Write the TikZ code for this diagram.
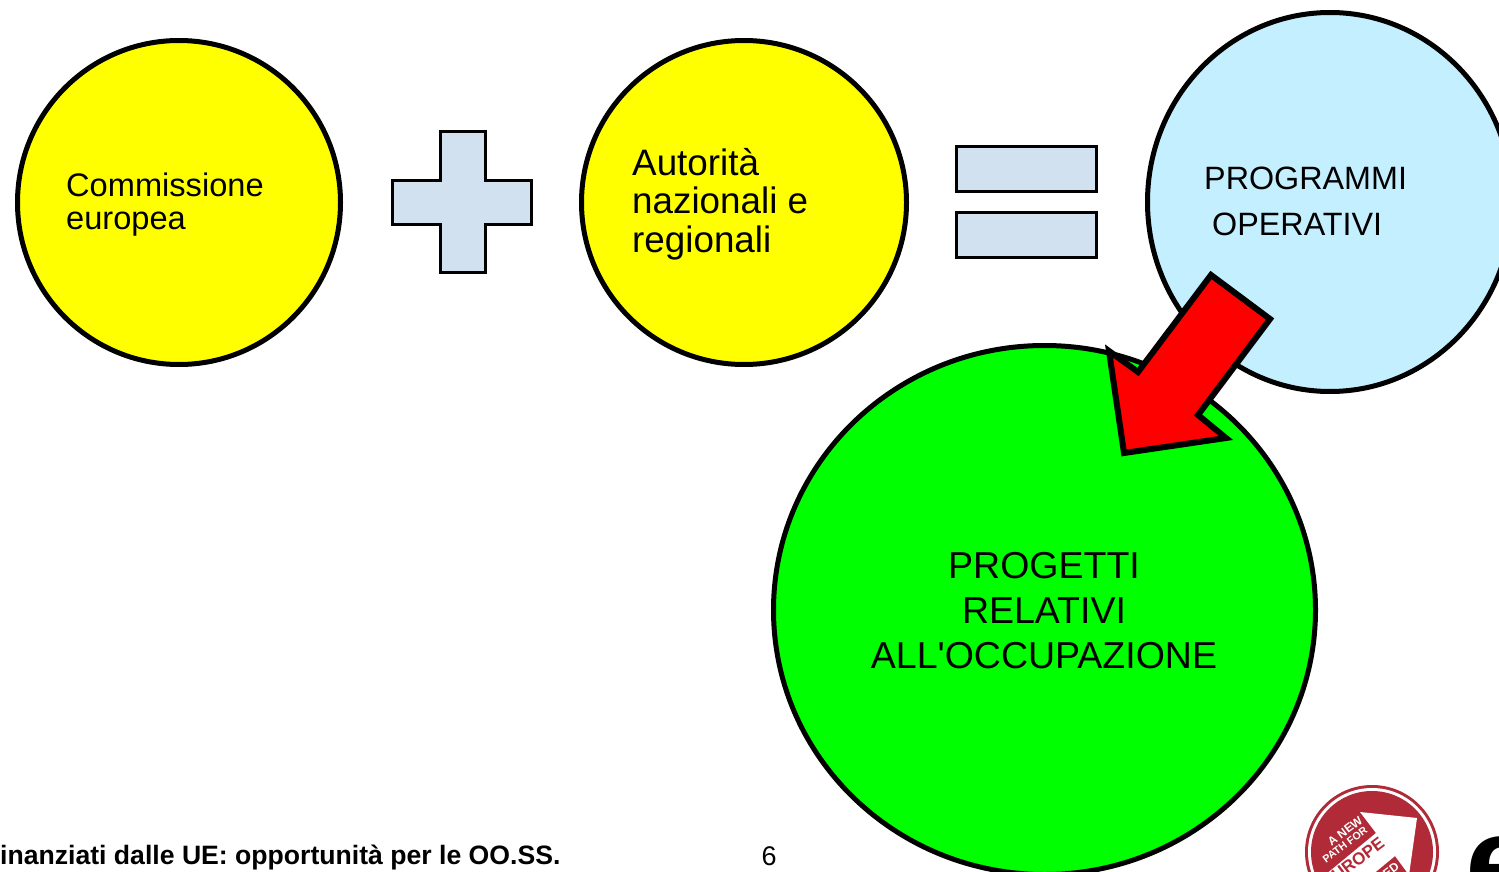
\documentclass[tikz,border=0pt]{standalone}
\usepackage{fontspec}
\usetikzlibrary{shapes.geometric}
\setmainfont{Liberation Sans}
\newfontfamily\plainfont{Liberation Sans}
\definecolor{pureyellow}{RGB}{255,255,0}
\definecolor{paleblue}{HTML}{D2E1F0}
\definecolor{skyfill}{HTML}{C4EFFF}
\definecolor{puregreen}{RGB}{0,255,0}
\definecolor{purered}{RGB}{255,0,0}
\definecolor{logored}{HTML}{B02A37}
\tikzset{
  disc/.style={ellipse,draw=black,line width=5pt,inner sep=0pt,anchor=center},
  lefttext/.style={anchor=west,align=left,inner sep=0pt},
  paleshape/.style={draw=black,line width=3pt,fill=paleblue},
  logotext/.style={text=white,font=\bfseries,rotate=37,inner sep=0pt}
}
\begin{document}
\begin{tikzpicture}[x=1pt,y=-1pt]
\useasboundingbox (0,0) rectangle (1499,872);
\clip (0,0) rectangle (1499,872);
\fill[white] (0,0) rectangle (1499,872);
\node[disc,fill=pureyellow,minimum width=323pt,minimum height=324pt] (ce) at (179,202.5) {};
\node[disc,fill=pureyellow,minimum width=325pt,minimum height=324pt] (an) at (744,202.5) {};
\node[disc,fill=skyfill,minimum width=365pt,minimum height=379pt] (po) at (1330,202) {};
\node[disc,fill=puregreen,minimum width=542pt,minimum height=529pt] (pr) at (1044.5,610) {};
\draw[paleshape] (440,132) -- (485,132) -- (485,180) -- (531,180) -- (531,224) -- (485,224) -- (485,272) -- (440,272) -- (440,224) -- (392,224) -- (392,180) -- (440,180) -- cycle;
\node[paleshape,minimum width=140pt,minimum height=45pt,inner sep=0pt] (eqa) at (1026.5,169) {};
\node[paleshape,minimum width=140pt,minimum height=45pt,inner sep=0pt] (eqb) at (1026.5,235) {};
\draw[line width=6pt,fill=purered,miter limit=10] (1211,275) -- (1270,319) -- (1198,415) -- (1226,438) -- (1124,453) -- (1109,351) -- (1138,372) -- cycle;
\node[lefttext,font=\fontsize{32.6}{33}\selectfont] (cet) at (66,205) {Commissione\\europea};
\node[lefttext,font=\fontsize{36.8}{38.5pt}\selectfont] (ant) at (632,204) {Autorità\\nazionali e\\regionali};
\node[lefttext,font=\fontsize{32.3}{32}\selectfont] (pot1) at (1204,178) {PROGRAMMI};
\node[lefttext,font=\fontsize{32.3}{32}\selectfont] (pot2) at (1212,224) {OPERATIVI};
\node[align=center,inner sep=0pt,font=\plainfont\fontsize{37.5}{45}\selectfont] (prt) at (1044,611) {PROGETTI\\RELATIVI\\ALL'OCCUPAZIONE};
\node[lefttext,font=\bfseries\fontsize{26.6}{30}\selectfont] (foot) at (0,857.5) {inanziati dalle UE: opportunità per le OO.SS.};
\node[font=\fontsize{27}{30}\selectfont,inner sep=0pt] (num) at (769,856) {6};
% logo
\node[circle,fill=logored,minimum size=134pt,inner sep=0pt] (logoa) at (1372,852) {};
\node[circle,fill=white,minimum size=128pt,inner sep=0pt] (logob) at (1372,852) {};
\node[circle,fill=logored,minimum size=122pt,inner sep=0pt] (logoc) at (1372,852) {};
\fill[white] (1360,812) -- (1417,818) -- (1409,875) -- (1395,856) -- (1372,875) -- (1325,875) -- (1376,833) -- cycle;
\node[logotext,font=\bfseries\fontsize{12}{13}\selectfont] (logod) at (1345,831) {A NEW};
\node[logotext,font=\bfseries\fontsize{10.6}{12}\selectfont] (logoe) at (1345,845) {PATH FOR};
\node[text=logored,rotate=37,inner sep=0pt,font=\bfseries\fontsize{17}{19}\selectfont] (logof) at (1358,859) {UROPE};
\node[logotext,font=\bfseries\fontsize{12}{13}\selectfont] (logoh) at (1391,870) {ED};
\node[anchor=base west,inner sep=0pt,font=\bfseries\fontsize{130}{130}\selectfont] (logog) at (1465,906) {e};
\end{tikzpicture}
\end{document}
